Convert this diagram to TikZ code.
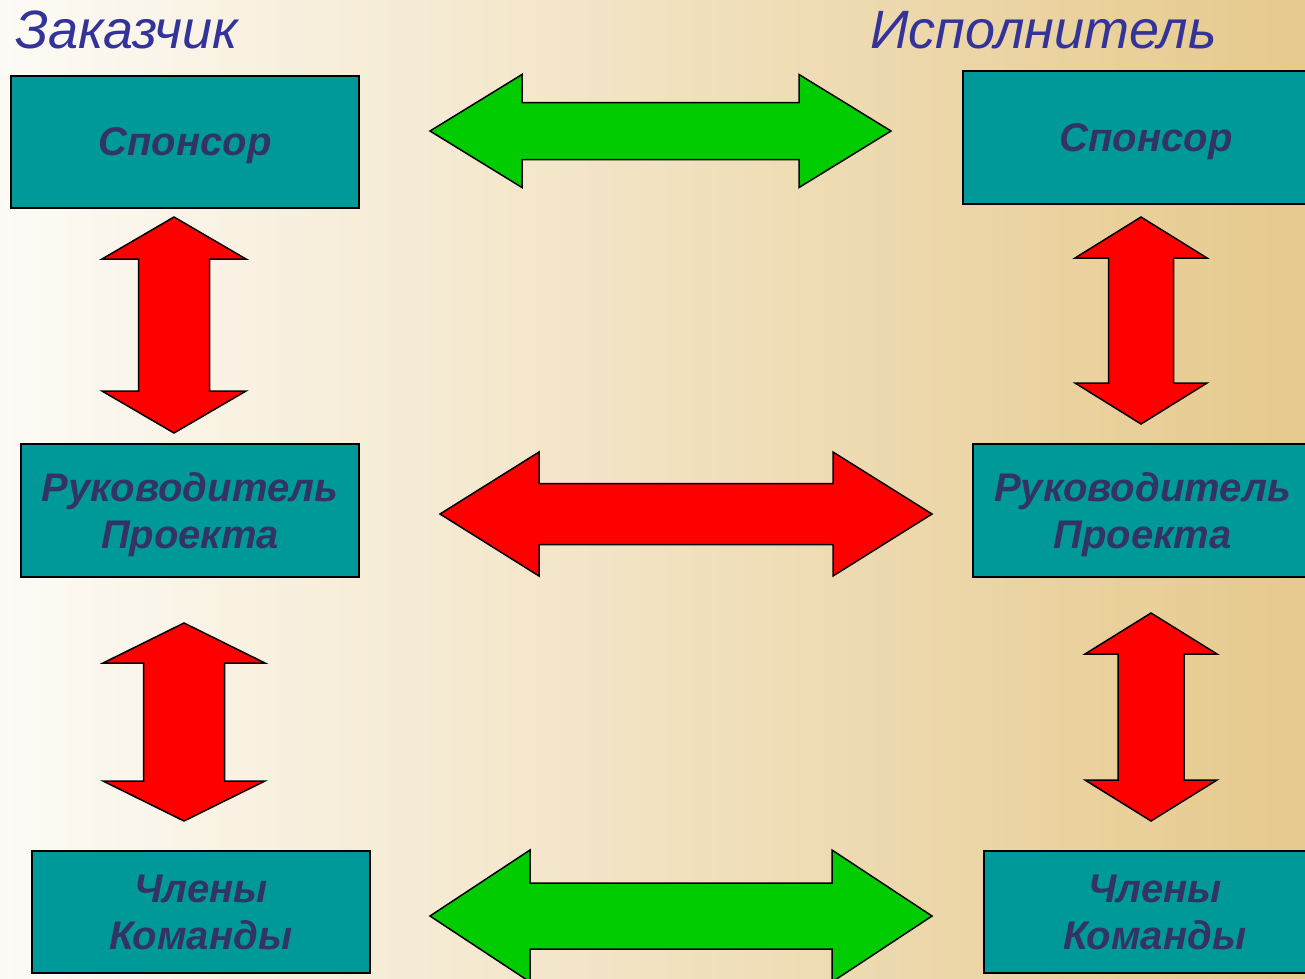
\documentclass[tikz,border=0pt]{standalone}
\usepackage{fontspec}
\setmainfont{Liberation Sans}
\usetikzlibrary{positioning}

\definecolor{boxteal}{HTML}{009999}
\definecolor{boxtext}{HTML}{333366}
\definecolor{titleblue}{HTML}{333399}
\definecolor{arrowgreen}{HTML}{00CC00}
\definecolor{arrowred}{HTML}{FF0000}
\definecolor{bgleft}{HTML}{FDFBF6}
\definecolor{bgmid}{HTML}{F4E8D3}
\definecolor{bgright}{HTML}{E6C98C}

\tikzset{
  partybox/.style={draw=black, line width=2pt, fill=boxteal, text=boxtext,
    font=\fontsize{40}{47}\selectfont\bfseries\itshape, align=center,
    inner sep=0pt, text depth=0pt, anchor=north west},
  sidetitle/.style={text=titleblue, font=\fontsize{54}{60}\selectfont\itshape,
    inner sep=0pt, anchor=base west},
  blockarrow/.style={draw=black, line width=1.5pt, line join=miter}
}

% colour, left tip, right tip, y, head half, shaft half, head length
\newcommand{\harrow}[7]{%
  \filldraw[blockarrow, fill=#1] (#2,#4) -- (#2+#7,#4-#5) -- (#2+#7,#4-#6)
    -- (#3-#7,#4-#6) -- (#3-#7,#4-#5) -- (#3,#4) -- (#3-#7,#4+#5)
    -- (#3-#7,#4+#6) -- (#2+#7,#4+#6) -- (#2+#7,#4+#5) -- cycle;}
% colour, x, top tip, bottom tip, head half, shaft half, head length
\newcommand{\varrow}[7]{%
  \filldraw[blockarrow, fill=#1] (#2,#3) -- (#2+#5,#3+#7) -- (#2+#6,#3+#7)
    -- (#2+#6,#4-#7) -- (#2+#5,#4-#7) -- (#2,#4) -- (#2-#5,#4-#7)
    -- (#2-#6,#4-#7) -- (#2-#6,#3+#7) -- (#2-#5,#3+#7) -- cycle;}

\begin{document}
\begin{tikzpicture}[x=1pt, y=-1pt]
    \useasboundingbox (0,0) rectangle (1305,978);
    \clip (0,0) rectangle (1305,978);
    \shade[left color=bgleft, middle color=bgmid, right color=bgright] (0,0) rectangle (1305,978);

    % Titles
    \node[sidetitle] (customer) at (15,48) {Заказчик};
    \node[sidetitle] (contractor) at (870,48) {Исполнитель};

    % Customer side
    \node[partybox, minimum width=348pt, minimum height=132pt] (lsponsor) at (10,75) {Спонсор};
    \node[partybox, minimum width=338pt, minimum height=133pt] (lmanager) at (20,443) {Руководитель\\Проекта};
    \node[partybox, minimum width=338pt, minimum height=122pt] (lteam) at (31,850) {Члены\\Команды};

    % Contractor side
    \node[partybox, minimum width=366pt, minimum height=133pt] (rsponsor) at (962,70) {Спонсор};
    \node[partybox, minimum width=339pt, minimum height=133pt] (rmanager) at (972,443) {Руководитель\\Проекта};
    \node[partybox, minimum width=342pt, minimum height=122pt] (rteam) at (983,850) {Члены\\Команды};

    % Links across
    \harrow{arrowgreen}{430}{891}{131}{56.5}{28.5}{92}
    \harrow{arrowred}{440}{932}{514}{62}{30.5}{99}
    \harrow{arrowgreen}{430}{932}{916}{66}{33}{100}

    % Links down
    \varrow{arrowred}{174}{217}{433}{72}{35.5}{42}
    \varrow{arrowred}{184}{623}{821}{81}{40.5}{40}
    \varrow{arrowred}{1141}{217}{424}{66}{32.5}{41}
    \varrow{arrowred}{1151}{613}{821}{66}{33}{41}
\end{tikzpicture}
\end{document}
